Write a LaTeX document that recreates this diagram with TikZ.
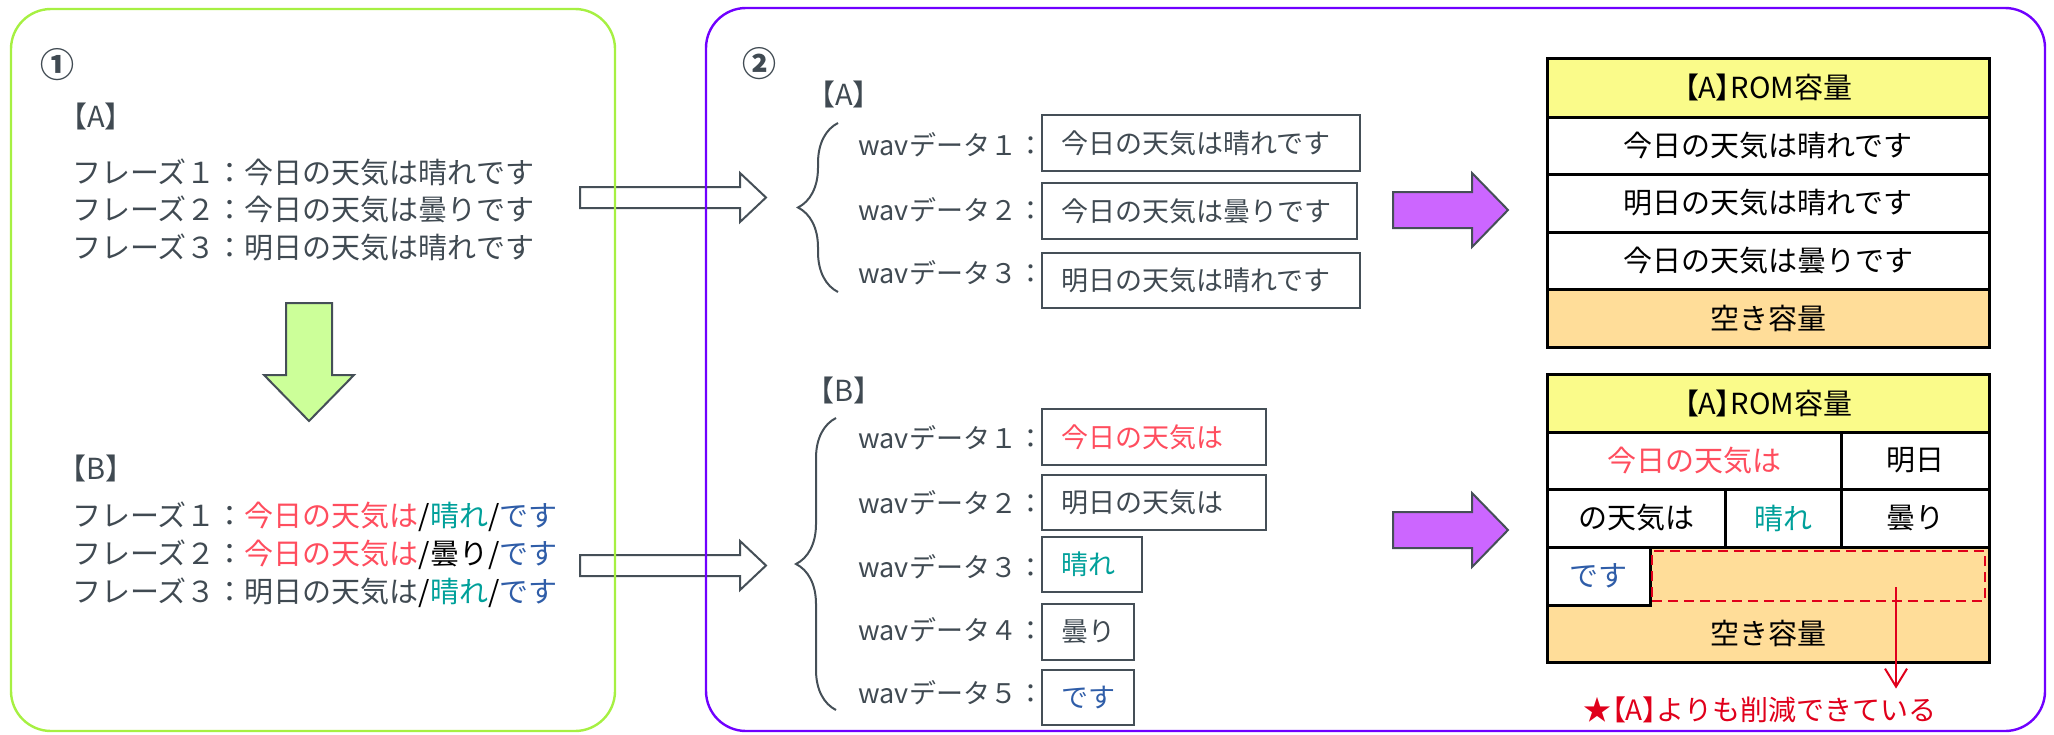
\documentclass[tikz,border=0pt]{standalone}
\usepackage{fontspec}
\setmainfont{Noto Sans CJK JP}
\newfontfamily\pfont[RawFeature=+palt]{Noto Sans CJK JP}
\usetikzlibrary{arrows.meta,decorations.pathreplacing}
\definecolor{tgray}{HTML}{404A52}
\definecolor{bgray}{HTML}{454F57}
\definecolor{pgreen}{HTML}{A6F042}
\definecolor{ppurple}{HTML}{7000FF}
\definecolor{agreen}{HTML}{CCFF99}
\definecolor{apurple}{HTML}{CC66FF}
\definecolor{kred}{HTML}{FF4D5E}
\definecolor{kteal}{HTML}{00A09A}
\definecolor{kblue}{HTML}{2F5DA8}
\definecolor{hyellow}{HTML}{FAFB8A}
\definecolor{horange}{HTML}{FFDD99}
\definecolor{nred}{HTML}{E0001B}
\newcommand{\fsz}[1]{\fontsize{#1}{#1}\selectfont}
\begin{document}
\begin{tikzpicture}[x=0.5pt,y=-0.5pt,
  num/.style={font=\fsz{17}\bfseries, text=tgray, inner sep=0pt},
  ltxt/.style={font=\fsz{14.5}, text=tgray, inner sep=0pt, anchor=west},
  brk/.style={font=\fsz{14.5}, text=tgray, inner sep=0pt},
  wtxt/.style={font=\fsz{13.5}, text=tgray, inner sep=0pt, anchor=west},
  dbox/.style={draw=bgray, line width=1pt, anchor=north west, outer sep=0pt,
    inner xsep=9.5pt, inner ysep=0pt, align=left, font=\fsz{13.5}, text=tgray},
  cell/.style={draw=black, line width=1.5pt, anchor=north west, outer sep=0pt,
    inner sep=0pt, font=\fsz{14.5}, text=black, fill=white},
  blockarrow/.style={draw=bgray, line width=1pt},
  bracestyle/.style={draw=bgray, line width=1pt, decorate,
    decoration={brace, amplitude=20pt}},
  dashbox/.style={draw=nred, line width=1pt, dash pattern=on 5pt off 3pt,
    anchor=north west, outer sep=0pt, inner sep=0pt},
  note/.style={font=\fsz{14}, text=nred, inner sep=0pt}
]
\useasboundingbox (0,0) rectangle (2054,734);

% block arrows between panels (drawn beneath the panel borders)
\draw[blockarrow, fill=white] (580,187) -- (740,187) -- (740,173) -- (766,197.5)
  -- (740,222) -- (740,208) -- (580,208) -- cycle;
\draw[blockarrow, fill=white] (580,555) -- (740,555) -- (740,541) -- (766,565.5)
  -- (740,590) -- (740,576) -- (580,576) -- cycle;

% panels
\draw[pgreen, line width=1.2pt, rounded corners=20pt] (11,9) rectangle (615,731);
\draw[ppurple, line width=1.2pt, rounded corners=20pt] (706,8) rectangle (2045,731);

% ---------- panel 1 ----------
\node[num] (n1) at (57,65) {①};
\node[brk] (hA) at (96,116) {【A】};
\node[ltxt] (a1) at (72,172) {フレーズ１：今日の天気は晴れです};
\node[ltxt] (a2) at (72,209) {フレーズ２：今日の天気は曇りです};
\node[ltxt] (a3) at (72,247) {フレーズ３：明日の天気は晴れです};

\draw[blockarrow, fill=agreen] (286,303) -- (332,303) -- (332,375) -- (354,375)
  -- (309,421) -- (264,375) -- (286,375) -- cycle;

\node[brk] (hB) at (96,468) {【B】};
\node[ltxt] (b1) at (72,517) {フレーズ１：\textcolor{kred}{今日の天気は}\textcolor{black}{/}\textcolor{kteal}{晴れ}\textcolor{black}{/}\textcolor{kblue}{です}};
\node[ltxt] (b2) at (72,555) {フレーズ２：\textcolor{kred}{今日の天気は}\textcolor{black}{/曇り/}\textcolor{kblue}{です}};
\node[ltxt] (b3) at (72,593) {フレーズ３：明日の天気は\textcolor{black}{/}\textcolor{kteal}{晴れ}\textcolor{black}{/}\textcolor{kblue}{です}};

% ---------- panel 2 ----------
\node[num] (n2) at (759,64) {②};
\node[brk] (rA) at (844,94) {【A】};
\draw[bracestyle] (838,292) -- (838,123);
\node[wtxt] (wa1) at (858,145) {wavデータ１：};
\node[wtxt] (wa2) at (858,210) {wavデータ２：};
\node[wtxt] (wa3) at (858,273) {wavデータ３：};
\node[dbox, text width=140pt, minimum height=28pt] (bA1) at (1042,115) {今日の天気は晴れです};
\node[dbox, text width=138.5pt, minimum height=28pt] (bA2) at (1042,183) {今日の天気は曇りです};
\node[dbox, text width=140pt, minimum height=27.5pt] (bA3) at (1042,253) {明日の天気は晴れです};

\node[brk] (rB) at (844,390) {【B】};
\draw[bracestyle] (836,710) -- (836,418);
\node[wtxt] (wb1) at (858,438) {wavデータ１：};
\node[wtxt] (wb2) at (858,503) {wavデータ２：};
\node[wtxt] (wb3) at (858,567) {wavデータ３：};
\node[wtxt] (wb4) at (858,630) {wavデータ４：};
\node[wtxt] (wb5) at (858,693) {wavデータ５：};
\node[dbox, text width=93pt, minimum height=28pt, text=kred] (bB1) at (1042,409) {今日の天気は};
\node[dbox, text width=93pt, minimum height=27.5pt] (bB2) at (1042,475) {明日の天気は};
\node[dbox, text width=31pt, minimum height=27.5pt, text=kteal] (bB3) at (1042,537) {晴れ};
\node[dbox, text width=27pt, minimum height=28pt] (bB4) at (1042,604) {曇り};
\node[dbox, text width=27pt, minimum height=27.5pt, text=kblue] (bB5) at (1042,670) {です};

% purple arrows
\draw[blockarrow, fill=apurple] (1393,192) -- (1472,192) -- (1472,173) -- (1508,210)
  -- (1472,247) -- (1472,228) -- (1393,228) -- cycle;
\draw[blockarrow, fill=apurple] (1393,512) -- (1472,512) -- (1472,493) -- (1508,530)
  -- (1472,567) -- (1472,548) -- (1393,548) -- cycle;

% table A
\node[cell, fill=hyellow, minimum width=221pt, minimum height=29.5pt] (tA0) at (1547,58) {{\pfont【A】}ROM容量};
\node[cell, minimum width=221pt, minimum height=28.5pt] (tA1) at (1547,117) {今日の天気は晴れです};
\node[cell, minimum width=221pt, minimum height=29pt] (tA2) at (1547,174) {明日の天気は晴れです};
\node[cell, minimum width=221pt, minimum height=28.5pt] (tA3) at (1547,232) {今日の天気は曇りです};
\node[cell, fill=horange, minimum width=221pt, minimum height=29pt] (tA4) at (1547,289) {空き容量};

% table B
\node[cell, fill=hyellow, minimum width=221pt, minimum height=29pt] (tB0) at (1547,374) {{\pfont【A】}ROM容量};
\node[cell, minimum width=147pt, minimum height=28.5pt, text=kred] (tB1) at (1547,432) {今日の天気は};
\node[cell, minimum width=74pt, minimum height=28.5pt] (tB2) at (1841,432) {明日};
\node[cell, minimum width=89pt, minimum height=29pt] (tB3) at (1547,489) {の天気は};
\node[cell, minimum width=58pt, minimum height=29pt, text=kteal] (tB4) at (1725,489) {晴れ};
\node[cell, minimum width=74pt, minimum height=29pt] (tB5) at (1841,489) {曇り};
\node[cell, fill=horange, minimum width=221pt, minimum height=57.5pt] (tB6) at (1547,547) {};
\node[cell, minimum width=51.5pt, minimum height=29pt, text=kblue] (tB7) at (1547,547) {です};
\node[dashbox, minimum width=166.5pt, minimum height=25pt] (sav) at (1652,551) {};
\node[font=\fsz{14.5}, text=black, inner sep=0pt] (tB8) at (1768,633) {空き容量};

% annotation
\node[note] (nt) at (1760,710) {★{\pfont【A】}よりも削減できている};
\coordinate (rs) at (1896,587);
\draw[nred, line width=1pt, -{Straight Barb[length=9pt,width=11pt]}]
  (rs) -- ([yshift=4pt]rs |- nt.north);
\end{tikzpicture}
\end{document}
